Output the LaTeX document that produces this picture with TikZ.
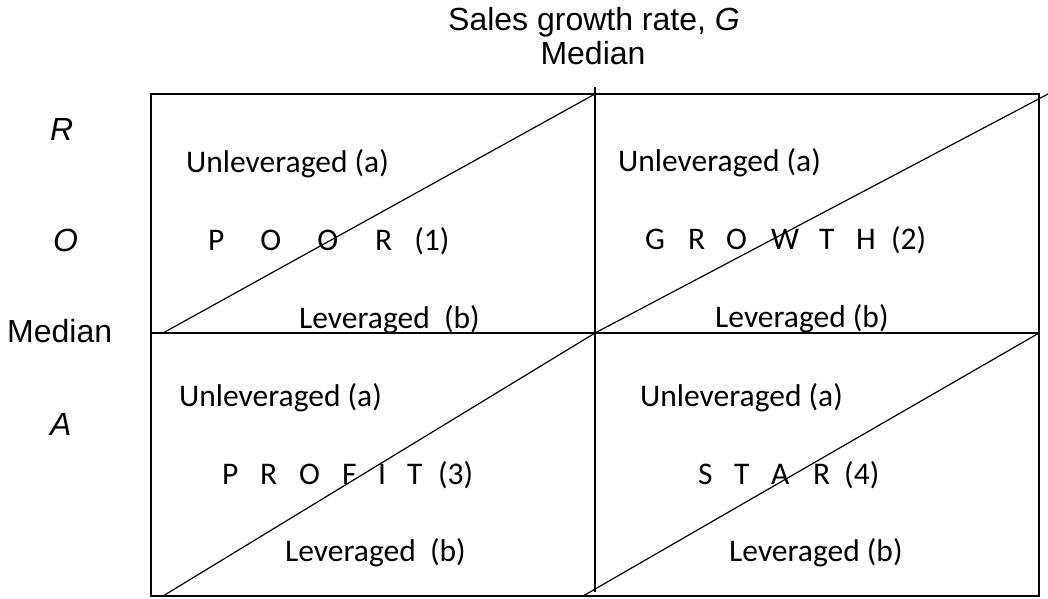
\documentclass[tikz,border=0pt]{standalone}
\usepackage{fontspec}
\setmainfont{Carlito}
\newfontfamily\arialf{Liberation Sans}
\begin{document}
\begin{tikzpicture}[x=1pt,y=-1pt,
  cell/.style={anchor=base west,inner sep=0pt,font=\fontsize{31.5}{36}\selectfont},
  side/.style={anchor=base west,inner sep=0pt,font=\arialf\fontsize{32}{36}\selectfont},
  title/.style={anchor=base,inner sep=0pt,font=\arialf\fontsize{32}{36}\selectfont},
  frame/.style={line width=1.7pt},
  diag/.style={line width=1.2pt}]
\useasboundingbox (0,0) rectangle (1048,598);
% corner coordinates
\coordinate (TL) at (150.7,94);
\coordinate (TR) at (1039,94);
\coordinate (BL) at (150.7,596);
\coordinate (BR) at (1039,596);
\coordinate (MT) at (595,87);
\coordinate (MB) at (595,592);
\coordinate (ML) at (150.7,333);
\coordinate (MR) at (1039,333);
\coordinate (C) at (595,333);
\coordinate (TopMid) at (595,94);
% diagonal end points
\coordinate (d1a) at (163,333);
\coordinate (d2b) at (1048,94);
\coordinate (d3a) at (163,596);
\coordinate (d4a) at (583,596);
% frame
\draw[frame] (TL) rectangle (BR);
\draw[frame] (MT) -- (MB);
\draw[frame] (ML) -- (MR);
% diagonals
\draw[diag] (d1a) -- (TopMid);
\draw[diag] (C) -- (d2b);
\draw[diag] (d3a) -- (C);
\draw[diag] (d4a) -- (MR);
% titles
\node[title] (t1) at (594,30.5) {Sales growth rate, \textit{G}};
\node[title] (t2) at (593,64) {Median};
% side labels
\node[side] (sR) at (50,140) {\textit{R}};
\node[side] (sO) at (53,251.5) {\textit{O}};
\node[side] (sM) at (7,342.5) {Median};
\node[side] (sA) at (50,435) {\textit{A}};
% cell 1
\node[cell] (u1) at (186,172) {Unleveraged (a)};
\node[cell] (n1) at (208,250) {P\hspace{36pt}O\hspace{36pt}O\hspace{37pt}R\hspace{22pt}(1)};
\node[cell] (l1) at (299,328) {Leveraged\ \ (b)};
% cell 2
\node[cell] (u2) at (618,171) {Unleveraged (a)};
\node[cell] (n2) at (645,249) {G\hspace{23pt}R\hspace{21pt}O\hspace{24pt}W\hspace{20pt}T\hspace{21.7pt}H\hspace{15.4pt}(2)};
\node[cell] (l2) at (715,327) {Leveraged (b)};
% cell 3
\node[cell] (u3) at (179,406) {Unleveraged (a)};
\node[cell] (n3) at (222,484) {P\hspace{21.7pt}R\hspace{21.9pt}O\hspace{22.1pt}F\hspace{21.5pt}I\hspace{21.1pt}T\hspace{15.7pt}(3)};
\node[cell] (l3) at (285,561) {Leveraged\ \ (b)};
% cell 4
\node[cell] (u4) at (640,406) {Unleveraged (a)};
\node[cell] (n4) at (698,484) {S\hspace{21.5pt}T\hspace{21.7pt}A\hspace{23.8pt}R\hspace{13.9pt}(4)};
\node[cell] (l4) at (729,561) {Leveraged (b)};
\end{tikzpicture}
\end{document}
